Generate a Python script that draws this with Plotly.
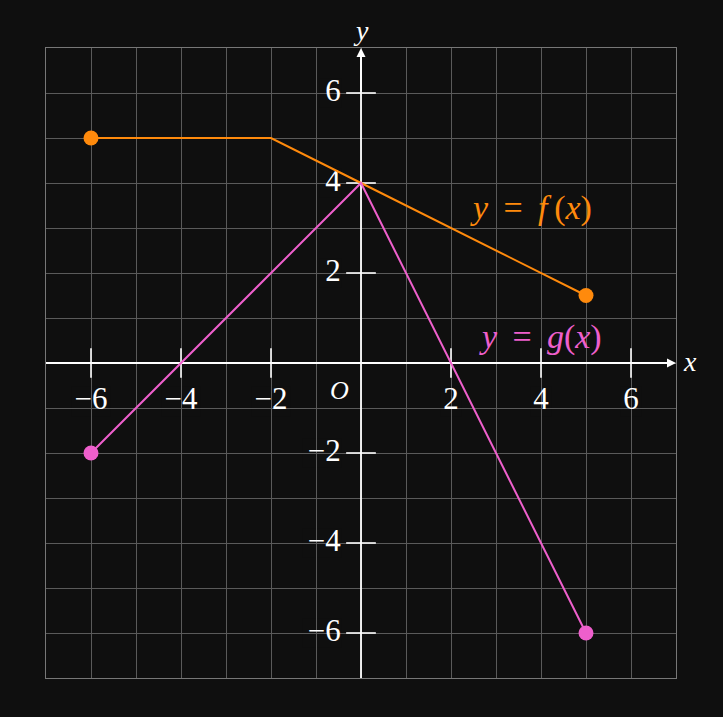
import plotly.graph_objects as go

# data
f_x = [-6, -2, 0, 5]
f_y = [5, 5, 4, 1.5]
g_x = [-6, 0, 5]
g_y = [-2, 4, -6]
x_ticks = [-6, -4, -2, 2, 4, 6]
y_ticks = [-6, -4, -2, 2, 4, 6]
x_tick_labels = ["−6", "−4", "−2", "2", "4", "6"]
y_tick_labels = ["−6", "−4", "−2", "2", "4", "6"]

BG = "#0f0f0f"
ORANGE = "#ff8a0c"
PINK = "#ee5fcc"
GRID = "#5a5a5a"
FONT = "Liberation Serif"
XR = [-7, 7]
YR = [-7, 7]
LBL_SIZE = 31

fig = go.Figure()

shapes = []
# label background boxes (above grid, below traces)
def box_w(t):
    return 0.36 + (0.38 if t.startswith("−") else 0.0)

XL_Y = -0.86
for v, t in zip(x_ticks, x_tick_labels):
    w = box_w(t)
    shapes.append(dict(type="rect", layer="below", xref="x", yref="y",
                       x0=v - w / 2 - 0.06, x1=v + w / 2 + 0.06, y0=XL_Y - 0.33, y1=XL_Y + 0.33,
                       fillcolor=BG, line=dict(width=0)))
YL_X = -0.45
for v, t in zip(y_ticks, y_tick_labels):
    w = box_w(t)
    shapes.append(dict(type="rect", layer="below", xref="x", yref="y",
                       x0=YL_X - w - 0.12, x1=YL_X + 0.02, y0=v - 0.33, y1=v + 0.33,
                       fillcolor=BG, line=dict(width=0)))

# tick marks
tl = 0.33
tx, ty = [], []
for v in x_ticks:
    tx += [v, v, None]
    ty += [-tl, tl, None]
for v in y_ticks:
    tx += [-tl, tl, None]
    ty += [v, v, None]
fig.add_trace(go.Scatter(x=tx, y=ty, mode="lines", line=dict(color="white", width=1.6),
                         hoverinfo="skip", showlegend=False))
# axes
fig.add_trace(go.Scatter(x=[XR[0], XR[1] - 0.05, None, 0, 0], y=[0, 0, None, YR[0], YR[1] - 0.05],
                         mode="lines", line=dict(color="white", width=1.8),
                         hoverinfo="skip", showlegend=False))

# tick labels as text traces
fig.add_trace(go.Scatter(x=x_ticks, y=[XL_Y] * len(x_ticks), mode="text", text=x_tick_labels,
                         textposition="middle center",
                         textfont=dict(family=FONT, size=LBL_SIZE, color="white"),
                         hoverinfo="skip", showlegend=False))
fig.add_trace(go.Scatter(x=[YL_X] * len(y_ticks), y=y_ticks, mode="text", text=y_tick_labels,
                         textposition="middle left",
                         textfont=dict(family=FONT, size=LBL_SIZE, color="white"),
                         hoverinfo="skip", showlegend=False))

fig.add_trace(go.Scatter(x=f_x, y=f_y, mode="lines", line=dict(color=ORANGE, width=2),
                         showlegend=False))
fig.add_trace(go.Scatter(x=g_x, y=g_y, mode="lines", line=dict(color=PINK, width=2),
                         showlegend=False))
fig.add_trace(go.Scatter(x=[f_x[0], f_x[-1]], y=[f_y[0], f_y[-1]], mode="markers",
                         marker=dict(color=ORANGE, size=15), showlegend=False))
fig.add_trace(go.Scatter(x=[g_x[0], g_x[-1]], y=[g_y[0], g_y[-1]], mode="markers",
                         marker=dict(color=PINK, size=15), showlegend=False))

ann = []
# arrowheads
ann.append(dict(x=XR[1], y=0, ax=XR[1] - 1, ay=0, xref="x", yref="y", axref="x", ayref="y",
                text="", showarrow=True, arrowhead=2, arrowsize=1, arrowwidth=1.8, arrowcolor="white"))
ann.append(dict(x=0, y=YR[1], ax=0, ay=YR[1] - 1, xref="x", yref="y", axref="x", ayref="y",
                text="", showarrow=True, arrowhead=2, arrowsize=1, arrowwidth=1.8, arrowcolor="white"))

ann.append(dict(x=1, y=0.5, xref="paper", yref="paper", text="<i>x</i>", xanchor="left",
                xshift=5, yshift=2,
                showarrow=False, font=dict(family=FONT, size=28, color="white")))
ann.append(dict(x=0.5, y=1, xref="paper", yref="paper", text="<i>y</i>", yanchor="bottom",
                yshift=0,
                showarrow=False, font=dict(family=FONT, size=28, color="white")))

ann.append(dict(x=-0.47, y=-0.6, xref="x", yref="y", text="<i>O</i>", showarrow=False,
                font=dict(family=FONT, size=26, color="white")))

SP = "\u2009"
ann.append(dict(x=3.78, y=3.45, xref="x", yref="y",
                text="<i>y</i>" + SP + " = " + SP + "<i>f</i>" + SP + "(<i>x</i>)",
                showarrow=False, font=dict(family=FONT, size=34, color=ORANGE)))
ann.append(dict(x=3.98, y=0.58, xref="x", yref="y",
                text="<i>y</i>" + SP + " = " + SP + "<i>g</i>(<i>x</i>)",
                showarrow=False, font=dict(family=FONT, size=34, color=PINK)))

fig.update_layout(
    width=723, height=717,
    margin=dict(l=46, r=47, t=48, b=39),
    paper_bgcolor=BG, plot_bgcolor=BG,
    annotations=ann, shapes=shapes,
    xaxis=dict(range=XR, dtick=1, tick0=0, showgrid=True, gridcolor=GRID, gridwidth=1,
               zeroline=False, showticklabels=False, ticks="", showline=True,
               linecolor="#777777", linewidth=1, mirror=True, fixedrange=True),
    yaxis=dict(range=YR, dtick=1, tick0=0, showgrid=True, gridcolor=GRID, gridwidth=1,
               zeroline=False, showticklabels=False, ticks="", showline=True,
               linecolor="#777777", linewidth=1, mirror=True, fixedrange=True),
)

fig.write_html("out.html", config={"displayModeBar": False},
               post_script="document.body.style.margin='0';document.body.style.background='#0f0f0f';")
